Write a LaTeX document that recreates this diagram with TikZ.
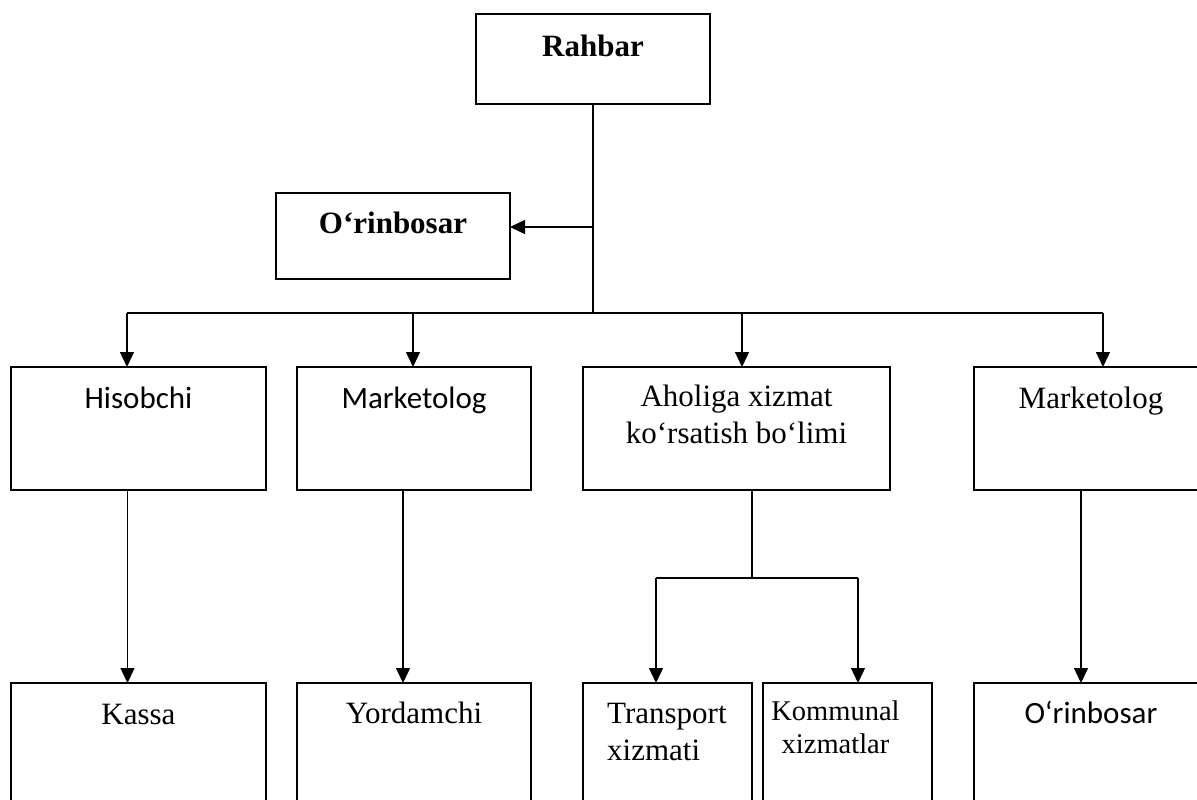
\documentclass[tikz,border=0pt]{standalone}
\usepackage{fontspec}
\setmainfont{Liberation Serif}
\newfontfamily\calibri{Carlito}
\usetikzlibrary{arrows.meta}

\begin{document}
\begin{tikzpicture}[x=1pt, y=-1pt,
    box/.style={draw, line width=1.8pt, rectangle, anchor=north west, inner sep=0pt, outer sep=0pt},
    txt/.style={anchor=base, inner sep=0pt, align=center, font=\fontsize{31}{36.5}\selectfont},
    txtb/.style={txt, font=\fontsize{31}{36.5}\selectfont\bfseries},
    txtc/.style={txt, font=\fontsize{31}{36.5}\selectfont\calibri},
    txtk/.style={txt, font=\fontsize{28.5}{33}\selectfont},
    link/.style={line width=1.4pt},
    >={Triangle[length=15pt, width=14pt]}]
    \useasboundingbox (0,0) rectangle (1197,800);
    \clip (0,0) rectangle (1197,800);

    % Top
    \node[box, minimum width=234pt, minimum height=90pt] (rahbar) at (476,14) {};
    \node[txtb] (rahbarT) at ([yshift=-43pt]rahbar.north) {Rahbar};
    \node[box, minimum width=234pt, minimum height=86pt] (orin) at (276,193) {};
    \node[txtb] (orinT) at ([yshift=-40pt]orin.north) {O‘rinbosar};

    % Departments
    \node[box, minimum width=255pt, minimum height=123pt] (hisobchi) at (11,367) {};
    \node[txtc] (hisobchiT) at ([yshift=-41pt]hisobchi.north) {Hisobchi};
    \node[box, minimum width=234pt, minimum height=123pt] (market) at (297,367) {};
    \node[txtc] (marketT) at ([yshift=-41pt]market.north) {Marketolog};
    \node[box, minimum width=307pt, minimum height=123pt] (aholi) at (583,367) {};
    \node[txt] (aholiT) at ([yshift=-76pt]aholi.north) {Aholiga xizmat\\ko‘rsatish bo‘limi};
    \node[box, minimum width=234pt, minimum height=123pt] (marketB) at (974,367) {};
    \node[txt] (marketBT) at ([yshift=-41pt]marketB.north) {Marketolog};

    % Bottom row
    \node[box, minimum width=255pt, minimum height=130pt] (kassa) at (11,683) {};
    \node[txt] (kassaT) at ([yshift=-41pt]kassa.north) {Kassa};
    \node[box, minimum width=234pt, minimum height=130pt] (yordam) at (297,683) {};
    \node[txt] (yordamT) at ([yshift=-40pt]yordam.north) {Yordamchi};
    \node[box, minimum width=169pt, minimum height=130pt] (transport) at (583,683) {};
    \node[txt, anchor=base west, align=left] (transportT) at ([xshift=24pt, yshift=-77pt]transport.north west) {Transport\\xizmati};
    \node[box, minimum width=169pt, minimum height=130pt] (kommunal) at (763,683) {};
    \node[txtk] (kommunalT) at ([xshift=-12pt, yshift=-70pt]kommunal.north) {Kommunal\\xizmatlar};
    \node[box, minimum width=234pt, minimum height=130pt] (orinB) at (974,683) {};
    \node[txtc] (orinBT) at ([yshift=-40pt]orinB.north) {O‘rinbosar};

    % Connectors
    \coordinate (busL) at (127,313);
    \coordinate (busR) at (1103,313);
    \coordinate (orinA) at (592,227);
    \draw[link] (rahbar.south) -- (rahbar.south |- busL);
    \draw[link] (busL) -- (busR);
    \draw[link, ->] (orinA) -- (orinA -| orin.east);
    \coordinate (d1) at (127,313);
    \coordinate (d2) at (413,313);
    \coordinate (d3) at (742,313);
    \coordinate (d4) at (1103,313);
    \draw[link, ->] (d1) -- (d1 |- hisobchi.north);
    \draw[link, ->] (d2) -- (d2 |- market.north);
    \draw[link, ->] (d3) -- (d3 |- aholi.north);
    \draw[link, ->] (d4) -- (d4 |- marketB.north);

    \draw[link, ->] ([xshift=-11pt]hisobchi.south) -- ([xshift=-11pt]kassa.north);
    \draw[link, ->] ([xshift=-11pt]market.south) -- ([xshift=-11pt]yordam.north);
    \draw[link, ->] ([xshift=-10pt]marketB.south) -- ([xshift=-10pt]orinB.north);

    \coordinate (split) at (752,578);
    \coordinate (tL) at (656,578);
    \coordinate (tR) at (858,578);
    \draw[link] (split |- aholi.south) -- (split);
    \draw[link] (tL) -- (tR);
    \draw[link, ->] (tL) -- (tL |- transport.north);
    \draw[link, ->] (tR) -- (tR |- kommunal.north);
\end{tikzpicture}
\end{document}
